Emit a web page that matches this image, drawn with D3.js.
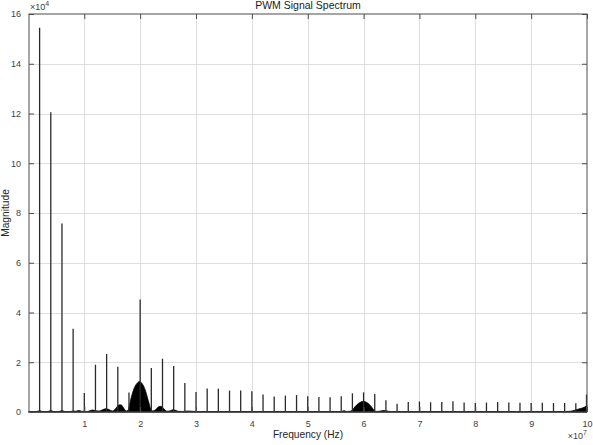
<!DOCTYPE html>
<html>
<head>
<meta charset="utf-8">
<script src="https://cdn.jsdelivr.net/npm/d3@7"></script>
<style>
  html, body { margin: 0; padding: 0; background: #fff; }
  svg { display: block; font-family: "Liberation Sans", Arial, Helvetica, sans-serif; }
</style>
</head>
<body>
<svg id="chart" width="593" height="445"></svg>
<script>
// ---- Data (frequency in units of 1e7 Hz, magnitude in units of 1e4) ----
const title = "PWM Signal Spectrum";
const xLabel = "Frequency (Hz)";
const yLabel = "Magnitude";
const xTicks = [1, 2, 3, 4, 5, 6, 7, 8, 9, 10];
const yTicks = [0, 2, 4, 6, 8, 10, 12, 14, 16];

// harmonic spike frequencies (x1e7 Hz)
const spikeFreq = [0.2,0.4,0.6,0.8,1.0,1.2,1.4,1.6,1.8,2.0,
                   2.2,2.4,2.6,2.8,3.0,3.2,3.4,3.6,3.8,4.0,
                   4.2,4.4,4.6,4.8,5.0,5.2,5.4,5.6,5.8,6.0,
                   6.2,6.4,6.6,6.8,7.0,7.2,7.4,7.6,7.8,8.0,
                   8.2,8.4,8.6,8.8,9.0,9.2,9.4,9.6,9.8,10.0];
// spike magnitudes (x1e4)
const spikeMag = [15.45,12.05,7.58,3.35,0.76,1.90,2.33,1.82,0.78,4.52,
                  1.77,2.14,1.85,1.17,0.80,0.94,0.94,0.86,0.86,0.83,
                  0.70,0.62,0.66,0.68,0.63,0.60,0.59,0.63,0.75,0.79,
                  0.72,0.47,0.33,0.40,0.42,0.39,0.40,0.43,0.38,0.36,
                  0.38,0.40,0.38,0.37,0.36,0.37,0.36,0.36,0.35,0.70];

// dense spectral envelope (filled region) - frequency and magnitude
const envFreq = [0.0,0.15,0.2,0.25,0.35,0.4,0.45,0.55,0.6,0.65,0.75,0.8,0.85,0.9,0.95,
                 1.05,1.1,1.15,1.2,1.27,1.33,1.38,1.44,1.5,1.55,1.59,1.63,1.67,1.71,1.75,
                 1.78,1.81,1.84,1.88,1.92,1.96,1.99,2.02,2.06,2.1,2.13,2.16,2.2,2.23,
                 2.28,2.32,2.36,2.4,2.44,2.48,2.54,2.59,2.63,2.68,2.75,2.85,3.0,3.5,
                 4.0,4.5,5.0,5.5,5.6,5.65,5.7,5.76,5.8,5.85,5.9,5.95,6.0,6.05,6.1,6.15,
                 6.19,6.22,6.28,6.33,6.37,6.42,6.48,6.6,7.0,8.0,9.0,9.6,9.7,9.78,9.85,9.9,9.95,9.98,10.0];
const envMag  = [0.01,0.02,0.05,0.02,0.02,0.06,0.02,0.02,0.06,0.02,0.02,0.04,0.03,0.06,0.03,
                 0.02,0.05,0.08,0.05,0.04,0.09,0.13,0.10,0.04,0.10,0.22,0.29,0.27,0.14,0.04,
                 0.06,0.28,0.58,0.88,1.08,1.19,1.23,1.18,1.05,0.82,0.58,0.34,0.07,0.04,
                 0.10,0.19,0.23,0.19,0.09,0.03,0.05,0.09,0.07,0.03,0.02,0.04,0.02,0.02,
                 0.02,0.02,0.02,0.02,0.02,0.05,0.02,0.03,0.08,0.22,0.33,0.40,0.43,0.39,0.31,0.18,
                 0.06,0.02,0.03,0.05,0.06,0.04,0.02,0.02,0.02,0.02,0.02,0.02,0.03,0.07,0.12,0.15,0.19,0.23,0.27];

// ---- Layout ----
const W = 593, H = 445;
const plot = { left: 29, right: 587, top: 14, bottom: 412 };

const svg = d3.select("#chart");
const x = d3.scaleLinear().domain([0.01, 10]).range([plot.left, plot.right]);
const y = d3.scaleLinear().domain([0, 16]).range([plot.bottom, plot.top]);

const axisColor = "#4d4d4d";
const textColor = "#404040";
const gridColor = "#dedede";

// grid
const grid = svg.append("g");
grid.selectAll(".gx").data(xTicks.filter(d => d < 10)).enter().append("line")
  .attr("x1", d => Math.round(x(d)) + 0.5).attr("x2", d => Math.round(x(d)) + 0.5)
  .attr("y1", plot.top).attr("y2", plot.bottom)
  .attr("stroke", gridColor).attr("stroke-width", 1);
grid.selectAll(".gy").data(yTicks.filter(d => d > 0 && d < 16)).enter().append("line")
  .attr("y1", d => Math.round(y(d)) + 0.5).attr("y2", d => Math.round(y(d)) + 0.5)
  .attr("x1", plot.left).attr("x2", plot.right)
  .attr("stroke", gridColor).attr("stroke-width", 1);

// envelope fill
const envData = envFreq.map((f, i) => ({ f, m: envMag[i] }));
const area = d3.area()
  .x(d => x(d.f))
  .y0(y(0))
  .y1(d => y(d.m))
  .curve(d3.curveMonotoneX);
svg.append("path")
  .datum(envData)
  .attr("d", area)
  .attr("fill", "#000")
  .attr("stroke", "#000")
  .attr("stroke-width", 0.8);

// spikes
const spikes = spikeFreq.map((f, i) => ({ f, m: spikeMag[i] }));
svg.append("g").selectAll("line").data(spikes).enter().append("line")
  .attr("x1", d => Math.min(x(d.f), plot.right - 0.5))
  .attr("x2", d => Math.min(x(d.f), plot.right - 0.5))
  .attr("y1", y(0))
  .attr("y2", d => y(d.m))
  .attr("stroke", "#2a2a2a")
  .attr("stroke-width", 1.3);

// baseline
svg.append("line")
  .attr("x1", plot.left).attr("x2", plot.right)
  .attr("y1", y(0)).attr("y2", y(0))
  .attr("stroke", "#222").attr("stroke-width", 1);

// axes box
svg.append("rect")
  .attr("x", plot.left).attr("y", plot.top)
  .attr("width", plot.right - plot.left).attr("height", plot.bottom - plot.top)
  .attr("fill", "none").attr("stroke", axisColor).attr("stroke-width", 1);

// tick marks (inward, all four sides)
const tickLen = 5;
const xAxisB = d3.axisBottom(x).tickValues(xTicks).tickSize(-tickLen).tickPadding(9).tickFormat(d3.format("d"));
const gxb = svg.append("g").attr("transform", `translate(0,${plot.bottom})`).call(xAxisB);
const xAxisT = d3.axisTop(x).tickValues(xTicks).tickSize(-tickLen).tickFormat("");
const gxt = svg.append("g").attr("transform", `translate(0,${plot.top})`).call(xAxisT);
const yAxisL = d3.axisLeft(y).tickValues(yTicks).tickSize(-tickLen).tickPadding(8).tickFormat(d3.format("d"));
const gyl = svg.append("g").attr("transform", `translate(${plot.left},0)`).call(yAxisL);
const yAxisR = d3.axisRight(y).tickValues(yTicks).tickSize(-tickLen).tickFormat("");
const gyr = svg.append("g").attr("transform", `translate(${plot.right},0)`).call(yAxisR);

[gxb, gxt, gyl, gyr].forEach(g => {
  g.select(".domain").remove();
  g.selectAll(".tick line").attr("stroke", axisColor);
  g.selectAll(".tick text").attr("fill", textColor)
    .style("font-size", "9px").style("font-family", '"Liberation Sans", Arial, sans-serif');
});

// exponent labels
const ex1 = svg.append("text").attr("x", plot.left + 1).attr("y", 10)
  .attr("fill", textColor).style("font-size", "9px");
ex1.append("tspan").text("\u00d710");
ex1.append("tspan").attr("dy", -4).style("font-size", "7px").text("4");

const ex2 = svg.append("text").attr("x", plot.right).attr("y", 439)
  .attr("text-anchor", "end")
  .attr("fill", textColor).style("font-size", "9px");
ex2.append("tspan").text("\u00d710");
ex2.append("tspan").attr("dy", -4).style("font-size", "7px").text("7");

// title
svg.append("text")
  .attr("x", (plot.left + plot.right) / 2).attr("y", 9)
  .attr("text-anchor", "middle")
  .attr("fill", "#1a1a1a")
  .style("font-size", "10.5px")
  .text(title);

// axis labels
svg.append("text")
  .attr("x", (plot.left + plot.right) / 2).attr("y", 438)
  .attr("text-anchor", "middle")
  .attr("fill", "#262626")
  .style("font-size", "10.2px")
  .text(xLabel);

svg.append("text")
  .attr("transform", `translate(9,${(plot.top + plot.bottom) / 2}) rotate(-90)`)
  .attr("text-anchor", "middle")
  .attr("fill", "#262626")
  .style("font-size", "10.2px")
  .text(yLabel);
</script>
</body>
</html>
